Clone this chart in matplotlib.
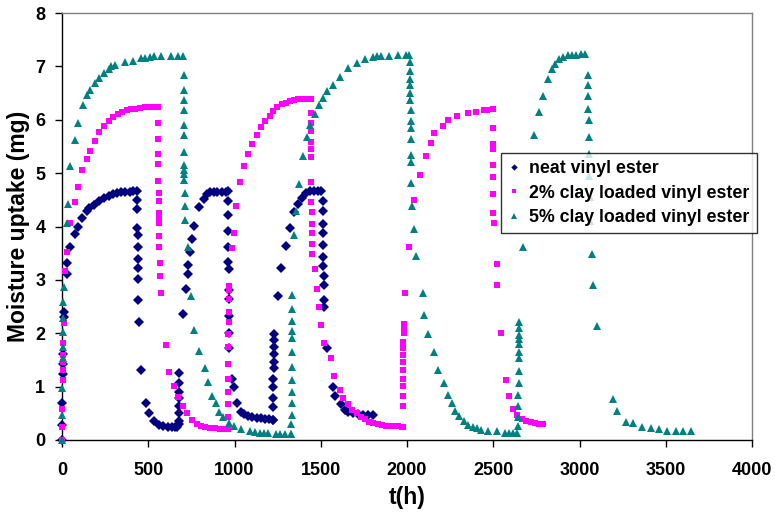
import matplotlib
matplotlib.use("Agg")
import matplotlib.pyplot as plt

plt.rcParams['font.family'] = ['Liberation Sans', 'DejaVu Sans']

# ---------------- data ----------------
neat_t = [0, 1, 2, 4, 5, 6, 9, 11, 27, 31, 46, 75, 92, 118, 144, 159, 188, 217, 246, 272, 295, 320, 343, 368, 392, 412, 435,
          436, 437, 437, 438, 438, 439, 439, 440, 441, 446, 458, 485, 506, 533, 562, 587, 612, 636, 655, 668,
          676, 677, 677, 678, 678, 679, 679, 680, 700, 719, 730, 732, 742, 752, 767, 794, 823, 839, 858, 881, 900, 926, 949, 961,
          963, 964, 964, 965, 965, 966, 966, 967, 967, 968, 969, 987, 997, 1013, 1036, 1057, 1080, 1103, 1128, 1152, 1177, 1202, 1221,
          1225, 1225, 1226, 1226, 1226, 1227, 1227, 1228, 1228, 1229, 1229, 1254, 1270, 1299, 1322, 1345, 1370, 1389, 1414, 1438, 1461, 1486, 1501,
          1511, 1512, 1512, 1513, 1514, 1514, 1515, 1516, 1517, 1518, 1519, 1538, 1569, 1581, 1616, 1641, 1656, 1685, 1718, 1747, 1776, 1801]
neat_v = [0, 0.28, 0.69, 1.24, 1.43, 1.62, 2.31, 2.40, 3.11, 3.31, 3.62, 3.86, 4.00, 4.15, 4.29, 4.34, 4.41, 4.48, 4.53, 4.57, 4.60, 4.63, 4.64, 4.64, 4.65, 4.66, 4.66,
          4.49, 4.32, 3.98, 3.84, 3.61, 3.40, 3.23, 3.01, 2.62, 2.22, 1.31, 0.69, 0.50, 0.36, 0.28, 0.26, 0.25, 0.25, 0.25, 0.25,
          0.30, 0.36, 0.50, 0.64, 0.78, 0.90, 1.07, 1.25, 2.36, 2.83, 3.11, 3.28, 3.53, 3.76, 4.01, 4.37, 4.51, 4.60, 4.64, 4.65, 4.65, 4.65, 4.65, 4.66,
          4.47, 4.21, 3.91, 3.62, 3.34, 3.20, 2.81, 2.65, 2.32, 2.00, 1.72, 1.15, 1.00, 0.70, 0.53, 0.48, 0.45, 0.44, 0.42, 0.41, 0.40, 0.39, 0.37,
          0.37, 0.61, 0.79, 0.99, 1.14, 1.34, 1.47, 1.62, 1.75, 1.88, 1.98, 2.70, 3.23, 3.64, 3.98, 4.28, 4.43, 4.54, 4.63, 4.66, 4.66, 4.66, 4.66,
          4.47, 4.29, 4.04, 3.87, 3.65, 3.42, 3.26, 3.08, 2.90, 2.63, 2.50, 1.72, 1.00, 0.82, 0.67, 0.56, 0.53, 0.50, 0.48, 0.47, 0.47, 0.46]

clay2_t = [0, 1, 2, 3, 4, 5, 6, 7, 9, 19, 31, 48, 73, 91, 116, 145, 160, 190, 217, 246, 271, 294, 323, 348, 377, 402, 425, 455, 480, 507, 532, 555,
           558, 558, 559, 559, 559, 560, 560, 560, 561, 561, 561, 562, 567, 569, 572, 601, 622, 649, 674, 700, 726, 752, 781, 804, 829, 858, 887, 916, 945, 961,
           962, 962, 963, 963, 964, 964, 965, 965, 966, 966, 967, 967, 968, 984, 995, 1011, 1032, 1057, 1077, 1103, 1128, 1152, 1177, 1206, 1225, 1248, 1273, 1297, 1322, 1345, 1370, 1393, 1418, 1442,
           1443, 1443, 1444, 1444, 1445, 1445, 1446, 1446, 1447, 1447, 1448, 1448, 1449, 1467, 1476, 1490, 1500, 1519, 1558, 1577, 1612, 1631, 1656, 1683, 1708, 1732, 1757, 1781, 1805, 1830, 1853, 1878, 1901, 1925, 1950, 1973,
           1975, 1975, 1976, 1976, 1977, 1977, 1978, 1978, 1979, 1979, 1980, 1980, 1981, 1988, 2012, 2042, 2077, 2108, 2137, 2157, 2211, 2240, 2288, 2355, 2400, 2446, 2462, 2497,
           2498, 2498, 2499, 2499, 2500, 2500, 2501, 2502, 2520, 2524, 2547, 2573, 2590, 2615, 2640, 2665, 2690, 2717, 2742, 2767, 2786]
clay2_v = [0, 0.25, 0.59, 1.12, 1.31, 1.47, 1.59, 1.81, 2.20, 3.17, 3.53, 4.07, 4.46, 4.74, 5.05, 5.27, 5.41, 5.60, 5.77, 5.88, 5.98, 6.05, 6.10, 6.15, 6.18, 6.20, 6.21, 6.22, 6.23, 6.23, 6.24, 6.24,
           5.93, 5.63, 5.35, 5.17, 4.85, 4.62, 4.47, 4.26, 4.14, 4.07, 3.83, 3.62, 3.31, 3.08, 2.75, 1.78, 1.28, 1.01, 0.81, 0.64, 0.50, 0.37, 0.30, 0.26, 0.24, 0.23, 0.22, 0.21, 0.21, 0.21,
           0.21, 0.44, 0.67, 0.90, 1.14, 1.42, 1.75, 1.98, 2.22, 2.40, 2.64, 2.81, 2.89, 3.59, 3.88, 4.38, 4.84, 5.14, 5.35, 5.54, 5.72, 5.87, 5.98, 6.07, 6.16, 6.23, 6.29, 6.32, 6.35, 6.37, 6.38, 6.38, 6.38, 6.38,
           6.13, 5.94, 5.78, 5.58, 5.45, 5.31, 4.84, 4.45, 4.28, 4.04, 3.87, 3.68, 3.49, 3.21, 2.83, 2.50, 2.15, 1.81, 1.53, 1.20, 0.94, 0.79, 0.67, 0.57, 0.50, 0.44, 0.39, 0.34, 0.32, 0.30, 0.28, 0.27, 0.27, 0.26, 0.26, 0.25,
           0.25, 0.64, 0.83, 1.01, 1.15, 1.31, 1.47, 1.59, 1.72, 1.84, 2.00, 2.09, 2.18, 2.75, 3.61, 4.49, 4.97, 5.33, 5.57, 5.75, 5.88, 6.00, 6.07, 6.13, 6.14, 6.18, 6.19, 6.21,
           5.84, 5.54, 5.45, 5.15, 4.92, 4.61, 4.25, 4.07, 3.30, 2.91, 2.00, 1.12, 0.82, 0.59, 0.47, 0.39, 0.36, 0.34, 0.31, 0.30, 0.30]

clay5_t = [0, 1, 2, 3, 4, 5, 6, 8, 9, 29, 33, 48, 77, 93, 120, 145, 160, 190, 217, 246, 271, 286, 309, 367, 410, 460, 483, 509, 536, 576, 634, 673, 702,
           705, 705, 706, 706, 707, 707, 708, 708, 709, 709, 710, 711, 712, 713, 731, 746, 767, 794, 829, 845, 871, 893, 908, 935, 967, 996, 1035, 1087, 1116, 1145, 1170, 1193, 1238, 1261, 1292, 1329,
           1330, 1330, 1331, 1331, 1332, 1332, 1333, 1333, 1334, 1334, 1335, 1335, 1336, 1345, 1357, 1374, 1395, 1422, 1438, 1467, 1492, 1515, 1538, 1569, 1612, 1656, 1708, 1757, 1801, 1824, 1849, 1897, 1946, 1994, 2014,
           2018, 2018, 2019, 2019, 2020, 2020, 2021, 2021, 2022, 2022, 2023, 2024, 2025, 2031, 2041, 2051, 2091, 2100, 2124, 2158, 2181, 2214, 2240, 2259, 2278, 2303, 2330, 2355, 2381, 2404, 2427, 2471, 2520, 2568, 2593, 2617, 2640,
           2645, 2645, 2646, 2646, 2647, 2647, 2648, 2648, 2649, 2649, 2650, 2650, 2651, 2671, 2738, 2765, 2786, 2815, 2839, 2858, 2881, 2906, 2932, 2955, 2980, 3009, 3032,
           3051, 3051, 3052, 3052, 3053, 3053, 3054, 3056, 3058, 3060, 3070, 3080, 3100, 3192, 3219, 3267, 3312, 3364, 3413, 3461, 3510, 3558, 3602, 3645]
clay5_v = [0, 0.47, 0.97, 1.53, 1.75, 2.03, 2.28, 2.59, 2.87, 4.06, 4.43, 5.13, 5.62, 5.93, 6.27, 6.46, 6.55, 6.68, 6.78, 6.88, 6.96, 7.00, 7.03, 7.08, 7.11, 7.16, 7.16, 7.18, 7.19, 7.19, 7.20, 7.20, 7.20,
           6.83, 6.56, 6.37, 6.19, 5.91, 5.71, 5.40, 5.16, 5.05, 4.99, 4.87, 4.63, 4.38, 4.13, 3.61, 2.70, 2.07, 1.67, 1.35, 1.08, 0.82, 0.69, 0.53, 0.44, 0.31, 0.26, 0.21, 0.17, 0.15, 0.14, 0.13, 0.13, 0.12, 0.12, 0.11, 0.11,
           0.11, 0.30, 0.47, 0.70, 0.89, 1.12, 1.37, 1.65, 1.92, 2.04, 2.23, 2.45, 2.71, 3.84, 4.29, 4.79, 5.33, 5.67, 5.90, 6.10, 6.27, 6.41, 6.54, 6.66, 6.81, 6.97, 7.06, 7.14, 7.18, 7.20, 7.20, 7.20, 7.22, 7.22, 7.22,
           7.08, 6.91, 6.77, 6.65, 6.51, 6.37, 6.18, 5.98, 5.84, 5.63, 5.34, 5.20, 4.82, 4.38, 3.95, 3.45, 2.76, 2.34, 1.99, 1.64, 1.31, 1.06, 0.85, 0.69, 0.54, 0.45, 0.36, 0.29, 0.25, 0.22, 0.19, 0.17, 0.16, 0.14, 0.14, 0.14, 0.14,
           0.27, 0.44, 0.64, 0.84, 1.07, 1.29, 1.53, 1.64, 1.79, 1.90, 1.97, 2.09, 2.22, 3.62, 5.72, 6.14, 6.45, 6.76, 6.96, 7.05, 7.13, 7.18, 7.21, 7.22, 7.22, 7.24, 7.24,
           6.84, 6.66, 6.45, 6.21, 5.99, 5.68, 5.36, 4.95, 4.55, 4.10, 3.48, 2.91, 2.13, 0.77, 0.55, 0.34, 0.31, 0.25, 0.23, 0.20, 0.17, 0.17, 0.16, 0.16]

series_labels = ["neat vinyl ester", "2% clay loaded vinyl ester", "5% clay loaded vinyl ester"]
x_ticks = [0, 500, 1000, 1500, 2000, 2500, 3000, 3500, 4000]
y_ticks = [0, 1, 2, 3, 4, 5, 6, 7, 8]

# ---------------- plot ----------------
fig = plt.figure(figsize=(7.75, 5.14), dpi=100)
ax = fig.add_axes([62/775, 1-440/514, 690/775, 427/514])

ax.plot(neat_t, neat_v, linestyle='none', marker='D', markersize=5.0, color='#000080',
        markeredgewidth=0, label=series_labels[0], clip_on=False, zorder=3)
ax.plot(clay2_t, clay2_v, linestyle='none', marker='s', markersize=4.6, color='#FF00FF',
        markeredgewidth=0, label=series_labels[1], clip_on=False, zorder=3)
ax.plot(clay5_t, clay5_v, linestyle='none', marker='^', markersize=6.0, color='#008080',
        markeredgewidth=0, label=series_labels[2], clip_on=False, zorder=3)

ax.set_xlim(0, 4000)
ax.set_ylim(0, 8)
ax.set_xticks(x_ticks)
ax.set_yticks(y_ticks)
ax.tick_params(direction='out', length=5, width=1, color='black')
ax.tick_params(axis='x', pad=11, labelsize=13)
ax.tick_params(axis='y', pad=7, labelsize=13)
for lab in ax.get_xticklabels() + ax.get_yticklabels():
    lab.set_fontweight('bold')

for s in ['left', 'bottom']:
    ax.spines[s].set_color('black')
    ax.spines[s].set_linewidth(1.0)
for s in ['top', 'right']:
    ax.spines[s].set_color('#808080')
    ax.spines[s].set_linewidth(1.0)

ax.set_xlabel('t(h)', fontsize=16.5, fontweight='bold', labelpad=5)
ax.set_ylabel('Moisture uptake (mg)', fontsize=16.5, fontweight='bold', labelpad=4)

leg = ax.legend(loc='upper left', bbox_to_anchor=(0.636, 0.672), frameon=True, fancybox=False,
                shadow=False, prop={'weight': 'bold', 'size': 12.8}, handlelength=0.7,
                handletextpad=0.5, borderpad=0.4, labelspacing=0.42, borderaxespad=0,
                markerscale=0.65)
leg.get_frame().set_edgecolor('black')
leg.get_frame().set_linewidth(1.0)
leg.set_zorder(5)

fig.savefig('out.png', dpi=100)
